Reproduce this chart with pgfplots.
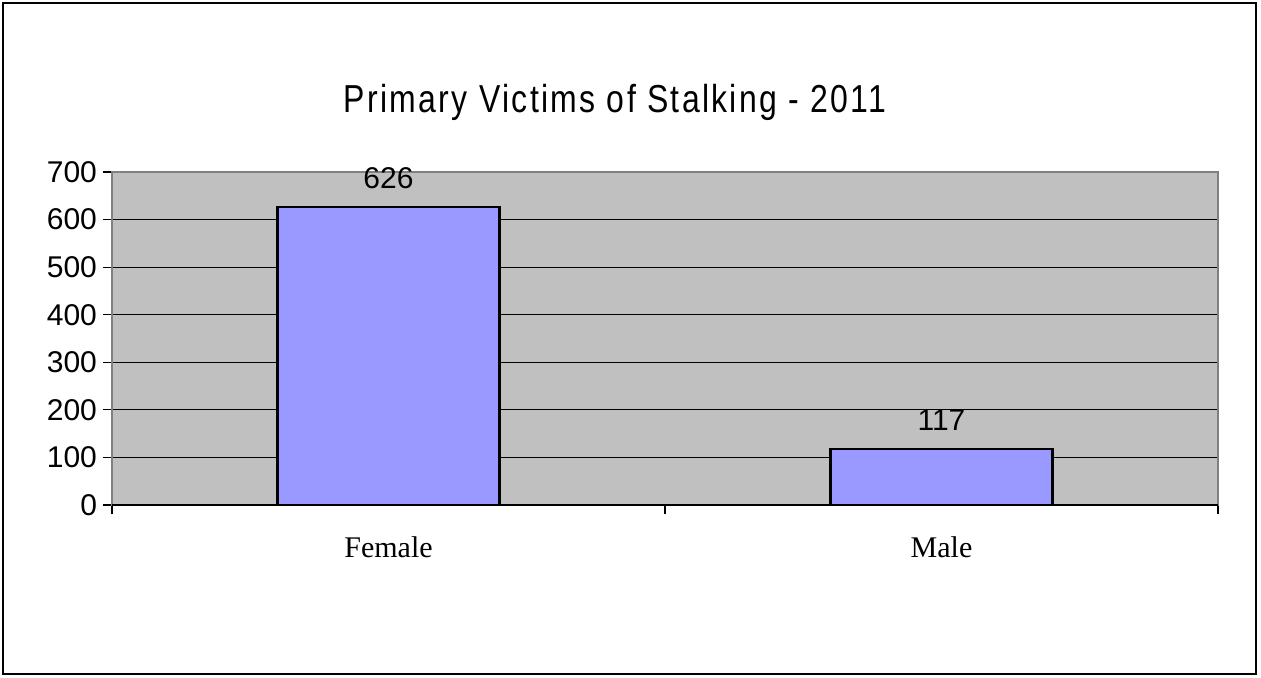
\documentclass[border=0pt]{standalone}
\usepackage{pgfplots}
\pgfplotsset{compat=1.18}
\usepackage{fontspec}
\setmainfont{Liberation Serif}
\newfontfamily\arial{Liberation Sans}
\newfontfamily\titlefont[FakeStretch=0.82,LetterSpace=6]{Liberation Sans}
\definecolor{plotbg}{HTML}{C0C0C0}
\definecolor{barcol}{HTML}{9999FF}
\begin{document}
\begin{tikzpicture}[x=1pt,y=1pt]
\useasboundingbox (-56pt,-86pt) rectangle (574.5pt,252.5pt);
\draw[black, line width=1pt] (-54.5pt,-84.5pt) rectangle (572pt,251pt);
\begin{axis}[
  at={(0,0)}, anchor=south west,
  scale only axis,
  width=553pt, height=166.5pt,
  xmin=0.5, xmax=2.5,
  ymin=0, ymax=700,
  axis background/.style={fill=plotbg},
  axis line style={draw=gray, line width=1pt},
  xtick={1,2},
  xticklabels={Female,Male},
  minor xtick={0.5,1.5,2.5},
  major x tick style={draw=none},
  minor x tick style={black, line width=0.6pt},
  minor tick length=4.5pt,
  ytick={0,100,...,700},
  y tick style={black, line width=0.6pt},
  major tick length=4.5pt,
  tick align=outside,
  tick pos=left,
  ymajorgrids,
  major grid style={black, line width=0.5pt},
  xticklabel style={font=\fontsize{15}{17}\selectfont, yshift=-8pt},
  yticklabel style={font=\arial\fontsize{15}{17}\selectfont, xshift=0.5pt},
  /pgf/number format/assume math mode=true,
  ybar, bar width=111pt,
  nodes near coords,
  every node near coord/.append style={font=\arial\fontsize{15}{17}\selectfont, anchor=base, yshift=9.5pt},
  clip=false,
]
\addplot[fill=barcol, draw=black, line width=1.1pt] coordinates {(1,626) (2,117)};
\draw[black, line width=0.8pt] (rel axis cs:0,0) -- (rel axis cs:1,0);
\end{axis}
\node[font=\titlefont\fontsize{19.5}{22}\selectfont, anchor=base] at (251.5pt,196.5pt) {Primary Victims of Stalking - 2011};
\end{tikzpicture}
\end{document}
